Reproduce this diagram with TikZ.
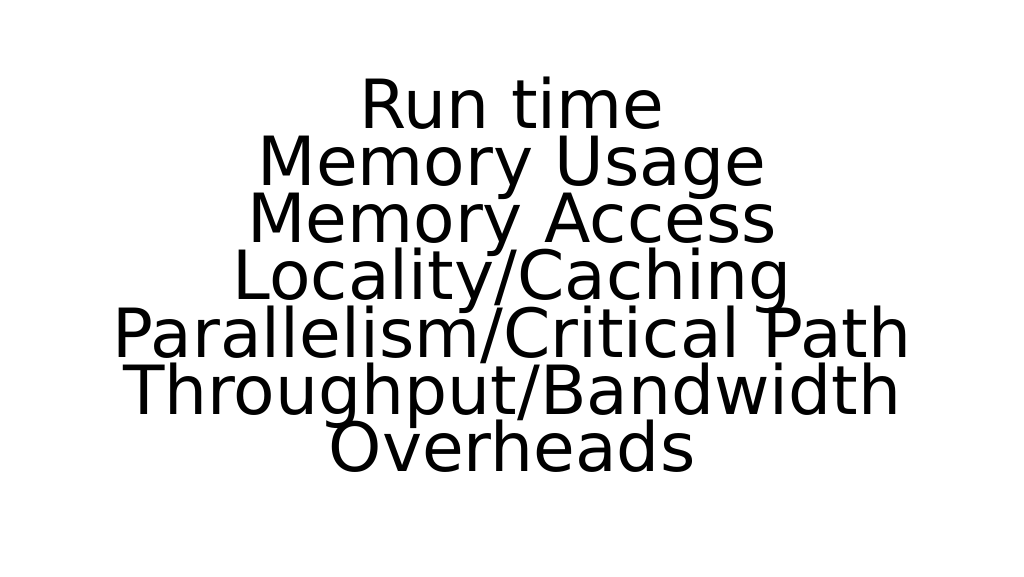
\documentclass[tikz,border=0pt]{standalone}
\usepackage{fontspec}
\setmainfont{DejaVu Sans}
\tikzset{
    metric/.style = {anchor = base, inner sep = 0pt, font = \fontsize{19.3pt}{19.3pt}\selectfont}
}
\begin{document}
\begin{tikzpicture}
    \useasboundingbox[fill = white] (0, 0) rectangle (10.24, 5.76);
    \foreach \t [count = \i] in {Run time, Memory Usage, Memory Access, Locality/Caching,
        Parallelism/Critical Path, Throughput/Bandwidth, Overheads}
        \node[metric] (line\i) at (5.12, {4.48 - 0.573*(\i-1)}) {\t};
\end{tikzpicture}
\end{document}
